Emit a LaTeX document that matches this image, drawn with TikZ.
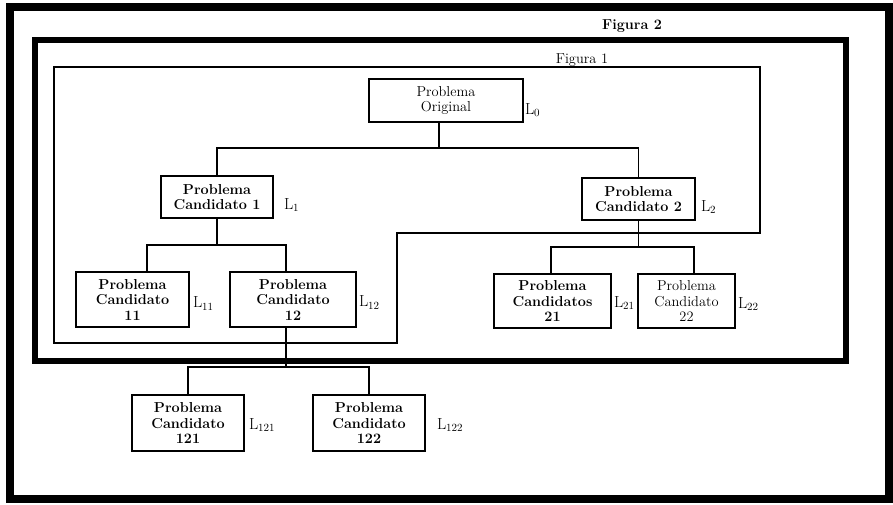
\documentclass[tikz,border=0pt]{standalone}
\usetikzlibrary{positioning}
\usetikzlibrary{calc}

\tikzset{
	caja/.style={draw,line width=1.6pt,align=center,inner sep=0pt,font=\fontsize{14.4}{15.5}\selectfont},
	negra/.style={font=\fontsize{14.4}{15.5}\selectfont\bfseries},
	linea/.style={line width=1.3pt},
	etiq/.style={inner sep=0pt,font=\fontsize{16}{17}\selectfont},
	marco/.style={line width=#1,line join=miter}
}

\begin{document}
\begin{tikzpicture}[x=1pt,y=-1pt]
	\useasboundingbox (0,0) rectangle (893,504);
	
	% Marcos
	\draw[marco=8pt] (10,7) rectangle (889,499);
	\draw[marco=6pt] (35,40) rectangle (846,361);
	\draw[marco=2.5pt] (54,67) -- (760,67) -- (760,233) -- (397,233) -- (397,343) -- (54,343) -- cycle;
	\node[font=\fontsize{14.4}{15}\selectfont\bfseries] (fig2) at (632,26) {Figura 2};
	\node[font=\fontsize{14.4}{15}\selectfont] (fig1) at (582,60) {Figura 1};
	
	% Problemas
	\node[caja,minimum width=154pt,minimum height=43pt] (orig) at (446,100.5) {Problema\\Original};
	\node[caja,negra,minimum width=112pt,minimum height=42pt] (c1) at (217,197) {Problema\\Candidato 1};
	\node[caja,negra,minimum width=113pt,minimum height=42pt] (c2) at (638.5,199) {Problema\\Candidato 2};
	\node[caja,negra,minimum width=113pt,minimum height=55pt] (c11) at (132.5,299.5) {Problema\\Candidato\\11};
	\node[caja,negra,minimum width=126pt,minimum height=55pt] (c12) at (293,299.5) {Problema\\Candidato\\12};
	\node[caja,negra,minimum width=117pt,minimum height=54pt] (c21) at (552.5,301) {Problema\\Candidatos\\21};
	\node[caja,minimum width=97pt,minimum height=54pt] (c22) at (686.5,301) {Problema\\Candidato\\22};
	\node[caja,negra,minimum width=112pt,minimum height=56pt] (c121) at (188,423) {Problema\\Candidato\\121};
	\node[caja,negra,minimum width=112pt,minimum height=56pt] (c122) at (369,423) {Problema\\Candidato\\122};
	
	% Cotas
	\node[etiq,right=1pt of orig,yshift=-9.5pt] (l0) {L$_0$};
	\node[etiq,right=10pt of c1,yshift=-8pt] (l1) {L$_1$};
	\node[etiq,right=5pt of c2,yshift=-8pt] (l2) {L$_2$};
	\node[etiq,right=3pt of c11,yshift=-4pt] (l11) {L$_{11}$};
	\node[etiq,right=2pt of c12,yshift=-3pt] (l12) {L$_{12}$};
	\node[etiq,right=2pt of c21,yshift=-2pt] (l21) {L$_{21}$};
	\node[etiq,right=2pt of c22,yshift=-3pt] (l22) {L$_{22}$};
	\node[etiq,right=4pt of c121,yshift=-2pt] (l121) {L$_{121}$};
	\node[etiq,right=11pt of c122,yshift=-2pt] (l122) {L$_{122}$};
	
	% Ramas
	\coordinate (j0) at (439,148);
	\coordinate (j1) at (217,245);
	\coordinate (j2) at (638.5,247);
	\coordinate (j12) at (286,367);
	\draw[linea] ([xshift=-7pt]orig.south) -- (j0);
	\draw[linea] (c1.north) |- (j0) -| (c2.north);
	\draw[linea] (c1.south) -- (j1);
	\draw[linea] ([xshift=14.5pt]c11.north) |- (j1) -| ([xshift=-7pt]c12.north);
	\draw[linea] (c2.south) -- (j2);
	\draw[linea] ([xshift=-1.5pt]c21.north) |- (j2) -| ([xshift=7.5pt]c22.north);
	\draw[linea] ([xshift=-7pt]c12.south) -- (j12);
	\draw[linea] (c121.north) |- (j12) -| (c122.north);
\end{tikzpicture}
\end{document}
